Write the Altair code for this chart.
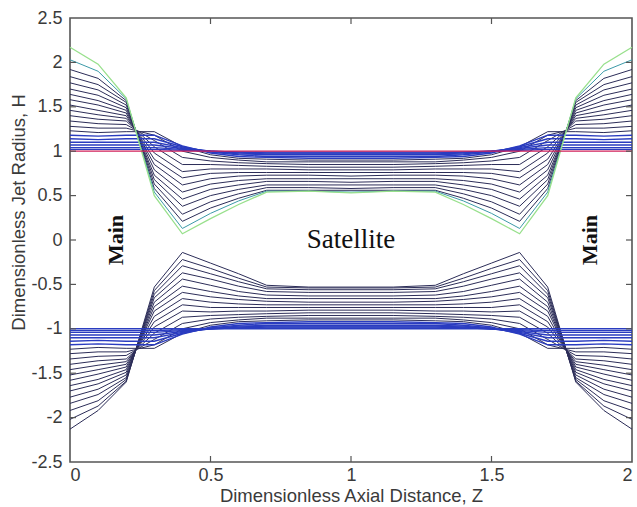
import altair as alt
import pandas as pd

# axial grid of the left half (profiles are symmetric about Z = 1)
z_half = [0.0, 0.1, 0.2, 0.3, 0.4, 0.5, 0.6, 0.7, 0.85, 1.0]

# upper free surface, one profile per time step (left half, Z = 0 .. 1)
upper_profiles = [
    [1.00, 1.00, 1.00, 1.00, 1.00, 1.00, 1.00, 1.00, 1.00, 1.00],
    [1.02, 1.02, 1.02, 1.02, 1.01, 1.00, 0.99, 0.99, 0.99, 0.99],
    [1.04, 1.04, 1.04, 1.04, 1.02, 1.00, 0.99, 0.98, 0.98, 0.98],
    [1.07, 1.07, 1.07, 1.07, 1.03, 1.00, 0.98, 0.97, 0.97, 0.97],
    [1.10, 1.10, 1.10, 1.10, 1.04, 1.00, 0.97, 0.96, 0.96, 0.96],
    [1.14, 1.13, 1.14, 1.14, 1.05, 0.99, 0.96, 0.94, 0.94, 0.94],
    [1.18, 1.17, 1.18, 1.18, 1.06, 0.98, 0.94, 0.93, 0.92, 0.92],
    [1.23, 1.21, 1.22, 1.22, 1.05, 0.96, 0.92, 0.91, 0.90, 0.90],
    [1.28, 1.26, 1.26, 1.18, 1.00, 0.93, 0.90, 0.88, 0.88, 0.88],
    [1.34, 1.31, 1.30, 1.12, 0.93, 0.89, 0.87, 0.86, 0.85, 0.85],
    [1.40, 1.36, 1.34, 1.05, 0.85, 0.85, 0.84, 0.83, 0.82, 0.82],
    [1.46, 1.41, 1.37, 0.98, 0.77, 0.80, 0.80, 0.80, 0.79, 0.79],
    [1.52, 1.46, 1.40, 0.91, 0.70, 0.75, 0.76, 0.76, 0.76, 0.76],
    [1.58, 1.52, 1.43, 0.85, 0.62, 0.69, 0.72, 0.73, 0.73, 0.72],
    [1.64, 1.57, 1.46, 0.79, 0.54, 0.63, 0.67, 0.69, 0.69, 0.69],
    [1.70, 1.63, 1.49, 0.73, 0.46, 0.57, 0.62, 0.66, 0.66, 0.65],
    [1.77, 1.69, 1.52, 0.68, 0.38, 0.50, 0.57, 0.62, 0.62, 0.62],
    [1.84, 1.75, 1.55, 0.63, 0.29, 0.43, 0.52, 0.59, 0.59, 0.58],
    [1.92, 1.82, 1.57, 0.58, 0.21, 0.36, 0.47, 0.56, 0.56, 0.56],
    [2.03, 1.90, 1.59, 0.54, 0.13, 0.30, 0.44, 0.55, 0.55, 0.54],
    [2.17, 1.98, 1.60, 0.50, 0.07, 0.24, 0.40, 0.54, 0.55, 0.53],
]

# lower free surface (left half)
lower_profiles = [
    [-1.00, -1.00, -1.00, -1.00, -1.00, -1.00, -1.00, -1.00, -1.00, -1.00],
    [-1.02, -1.02, -1.02, -1.02, -1.01, -1.00, -0.99, -0.99, -0.99, -0.99],
    [-1.04, -1.04, -1.04, -1.04, -1.02, -1.00, -0.99, -0.98, -0.98, -0.98],
    [-1.07, -1.07, -1.07, -1.07, -1.03, -1.00, -0.98, -0.97, -0.97, -0.97],
    [-1.10, -1.10, -1.10, -1.10, -1.04, -1.00, -0.97, -0.96, -0.96, -0.96],
    [-1.14, -1.13, -1.14, -1.14, -1.05, -0.99, -0.96, -0.94, -0.94, -0.94],
    [-1.18, -1.17, -1.18, -1.18, -1.06, -0.98, -0.94, -0.93, -0.92, -0.92],
    [-1.23, -1.21, -1.22, -1.22, -1.05, -0.96, -0.92, -0.91, -0.90, -0.90],
    [-1.28, -1.26, -1.26, -1.18, -1.00, -0.93, -0.90, -0.88, -0.88, -0.88],
    [-1.34, -1.31, -1.30, -1.12, -0.94, -0.89, -0.87, -0.86, -0.85, -0.85],
    [-1.40, -1.36, -1.34, -1.05, -0.87, -0.85, -0.84, -0.83, -0.82, -0.82],
    [-1.46, -1.41, -1.37, -0.98, -0.80, -0.81, -0.80, -0.80, -0.79, -0.79],
    [-1.52, -1.46, -1.40, -0.92, -0.73, -0.76, -0.76, -0.76, -0.76, -0.76],
    [-1.58, -1.51, -1.43, -0.86, -0.66, -0.70, -0.72, -0.73, -0.73, -0.73],
    [-1.64, -1.57, -1.46, -0.80, -0.59, -0.64, -0.67, -0.69, -0.70, -0.70],
    [-1.70, -1.62, -1.49, -0.75, -0.52, -0.58, -0.63, -0.66, -0.66, -0.66],
    [-1.77, -1.68, -1.52, -0.70, -0.44, -0.51, -0.58, -0.62, -0.63, -0.63],
    [-1.84, -1.74, -1.55, -0.65, -0.37, -0.44, -0.52, -0.58, -0.59, -0.59],
    [-1.92, -1.81, -1.57, -0.61, -0.29, -0.38, -0.47, -0.55, -0.56, -0.56],
    [-2.02, -1.87, -1.59, -0.57, -0.22, -0.32, -0.43, -0.53, -0.54, -0.54],
    [-2.13, -1.92, -1.60, -0.53, -0.14, -0.26, -0.38, -0.51, -0.53, -0.53],
]

x_ticks = [0, 0.5, 1, 1.5, 2]
y_ticks = [-2.5, -2, -1.5, -1, -0.5, 0, 0.5, 1, 1.5, 2, 2.5]

labels_txt = ["Main", "Main"]
labels_z = [0.165, 1.85]
labels_h = [0.0, 0.0]
sat_txt = ["Satellite"]
sat_z = [1.0]
sat_h = [-0.09]

# ---------------------------------------------------------------- build table
z_full = z_half + [round(2 - z, 2) for z in z_half[-2::-1]]


def group(half, k):
    if k == 0:
        return "init" if half == "upper" else "early"
    if k <= 6:
        return "early"
    if half == "upper" and k == 19:
        return "late"
    if half == "upper" and k == 20:
        return "final"
    return "mid"


rows = []
for half, profs in (("upper", upper_profiles), ("lower", lower_profiles)):
    for k, prof in enumerate(profs):
        full = prof + prof[-2::-1]
        for i, (z, h) in enumerate(zip(z_full, full)):
            rows.append({"z": z, "H": h, "id": f"{half}{k:02d}",
                         "grp": group(half, k), "i": i})
df = pd.DataFrame(rows)

W, H = 562, 444
xs = alt.Scale(domain=[0, 2], nice=False, zero=False)
ys = alt.Scale(domain=[-2.5, 2.5], nice=False, zero=False)

axis_font = dict(labelFont="Liberation Sans", labelFontSize=18, labelColor="#3a3a3a",
                 titleFont="Liberation Sans", titleFontSize=18.5, titleColor="#3a3a3a",
                 titleFontWeight="normal", ticks=False, domain=False, grid=False,
                 labelExpr="toString(datum.value)")

base = alt.Chart(df)


def lines(g, color, sw):
    return base.transform_filter(alt.datum.grp == g).mark_line(
        color=color, strokeWidth=sw).encode(
        x=alt.X("z:Q", scale=xs,
                axis=alt.Axis(values=x_ticks, title="Dimensionless Axial Distance, Z",
                              labelPadding=4, titleY=33, titleBaseline="middle",
                              **axis_font)),
        y=alt.Y("H:Q", scale=ys,
                axis=alt.Axis(values=y_ticks, title="Dimensionless Jet Radius, H",
                              labelPadding=8, titleX=-52, titleY=194,
                              titleAngle=270, titleAlign="center",
                              titleBaseline="middle", **axis_font)),
        detail="id:N",
        order="i:Q",
    )


mid = lines("mid", "#2c2d58", 1.0)
early = lines("early", "#2a3cc0", 1.4)
late = lines("late", "#3c9aa8", 1.0)
final = lines("final", "#98e08c", 1.3)
init = lines("init", "#d0205a", 1.2)

xt = pd.DataFrame({"t": [0.5, 1, 1.5]})
yt = pd.DataFrame({"t": [-2, -1.5, -1, -0.5, 0, 0.5, 1, 1.5, 2]})
tick_c = "#555555"
xb = alt.Chart(xt).mark_rule(color=tick_c, strokeWidth=1.2).encode(
    x=alt.X("t:Q", scale=xs), y=alt.value(H), y2=alt.value(H - 6))
xtop = alt.Chart(xt).mark_rule(color=tick_c, strokeWidth=1.2).encode(
    x=alt.X("t:Q", scale=xs), y=alt.value(0), y2=alt.value(6))
yl = alt.Chart(yt).mark_rule(color=tick_c, strokeWidth=1.2).encode(
    y=alt.Y("t:Q", scale=ys), x=alt.value(0), x2=alt.value(6))
yr = alt.Chart(yt).mark_rule(color=tick_c, strokeWidth=1.2).encode(
    y=alt.Y("t:Q", scale=ys), x=alt.value(W), x2=alt.value(W - 6))

main_df = pd.DataFrame({"z": labels_z, "H": labels_h, "t": labels_txt})
main_txt = alt.Chart(main_df).mark_text(
    font="Liberation Serif", fontWeight="bold", fontSize=22, angle=270,
    align="center", baseline="middle", color="#111111").encode(
    x=alt.X("z:Q", scale=xs), y=alt.Y("H:Q", scale=ys), text="t:N")

sat_df = pd.DataFrame({"z": sat_z, "H": sat_h, "t": sat_txt})
sat = alt.Chart(sat_df).mark_text(
    font="Liberation Serif", fontSize=27, align="center", baseline="alphabetic",
    color="#111111").encode(
    x=alt.X("z:Q", scale=xs), y=alt.Y("H:Q", scale=ys), text="t:N")

chart = alt.layer(mid, early, late, final, init, xb, xtop, yl, yr, main_txt, sat).properties(
    width=W, height=H,
    autosize=alt.AutoSizeParams(type="none"),
    padding={"left": 70, "top": 18, "right": 5, "bottom": 45},
    background="white",
).configure_view(stroke="#555555", strokeWidth=1.6)

chart.save("out.html", embed_options={"renderer": "svg", "actions": False})
